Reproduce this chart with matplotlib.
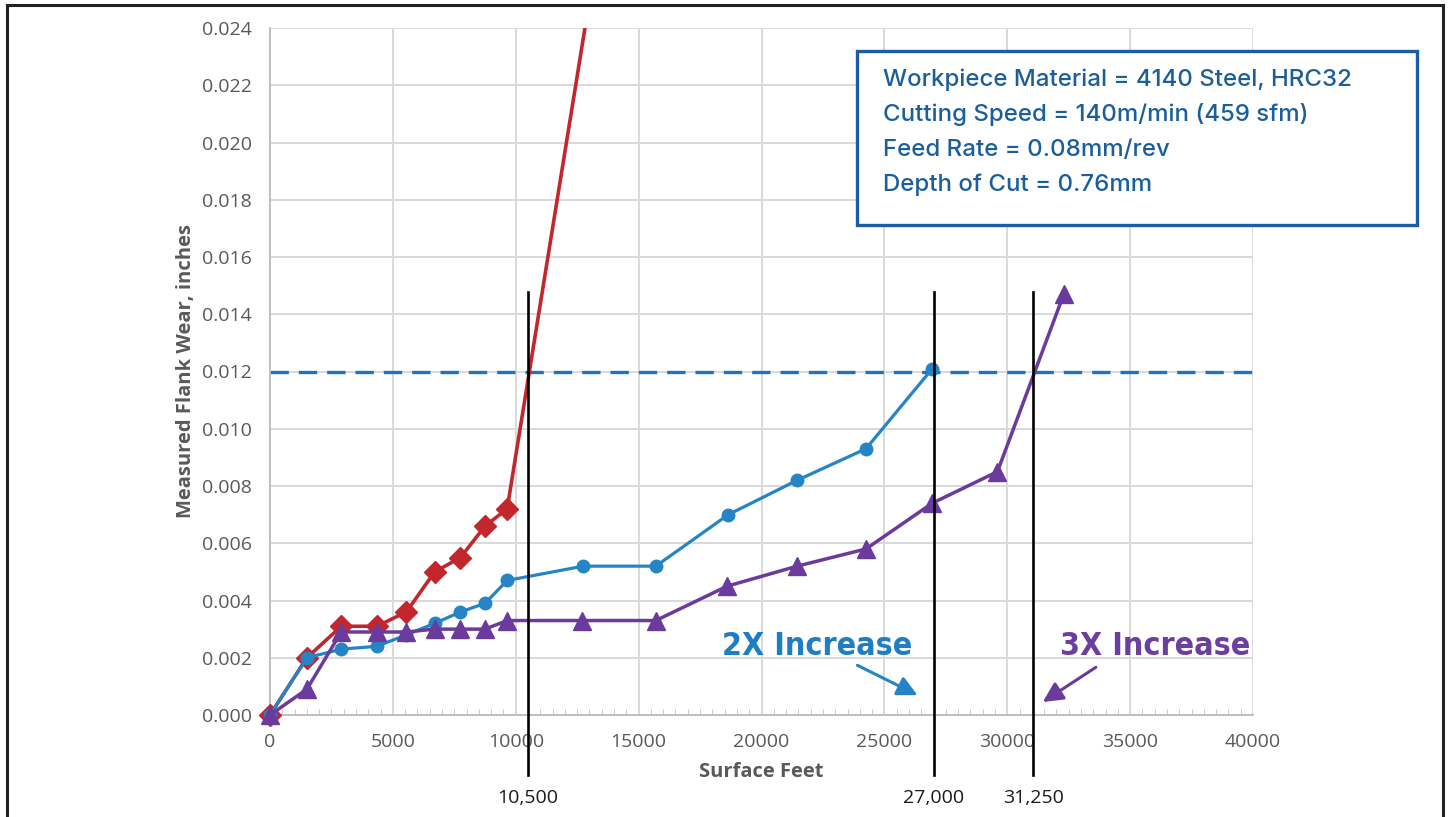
import matplotlib
matplotlib.use("Agg")
import matplotlib.pyplot as plt
from matplotlib import font_manager
from matplotlib.lines import Line2D
from matplotlib.patches import Rectangle
from matplotlib.ticker import MultipleLocator

# data
red_x = [0, 1500, 2900, 4350, 5550, 6700, 7750, 8750, 9650, 15700]
red_y = [0.0, 0.0020, 0.0031, 0.0031, 0.0036, 0.0050, 0.0055, 0.0066, 0.0072, 0.0393]

blue_x = [0, 1500, 2900, 4350, 5550, 6700, 7750, 8750, 9650, 12750, 15700, 18650, 21450, 24250, 26950]
blue_y = [0.0, 0.0020, 0.0023, 0.0024, 0.0028, 0.0032, 0.0036, 0.0039, 0.0047, 0.0052, 0.0052,
          0.0070, 0.0082, 0.0093, 0.0121]

purple_x = [0, 1500, 2900, 4350, 5550, 6700, 7750, 8750, 9650, 12700, 15700, 18600, 21450,
            24250, 26950, 29600, 32300]
purple_y = [0.0, 0.0009, 0.0029, 0.0029, 0.0029, 0.0030, 0.0030, 0.0030, 0.0033, 0.0033, 0.0033,
            0.0045, 0.0052, 0.0058, 0.0074, 0.0085, 0.0147]

limit_wear = 0.012
life_x = [10500, 27000, 31050]
life_labels = ["10,500", "27,000", "31,250"]

info_lines = ["Workpiece Material = 4140 Steel, HRC32",
              "Cutting Speed = 140m/min (459 sfm)",
              "Feed Rate = 0.08mm/rev",
              "Depth of Cut = 0.76mm"]

RED = "#c1272d"
BLUE = "#2584c6"
PURPLE = "#6a3a9c"
GRAY = "#595959"

names = {f.name for f in font_manager.fontManager.ttflist}
if "Liberation Sans Narrow" in names:
    cond = dict(family="Liberation Sans Narrow")
else:
    cond = dict(family="DejaVu Sans", fontstretch="condensed")

W, H = 1449, 817
fig = plt.figure(figsize=(W / 100, H / 100), dpi=100)
ax = fig.add_axes([270 / W, 1 - 715 / H, (1253 - 270) / W, (715 - 28) / H])

ax.set_xlim(0, 40000)
ax.set_ylim(0, 0.024)
ax.xaxis.set_major_locator(MultipleLocator(5000))
ax.xaxis.set_minor_locator(MultipleLocator(500))
ax.yaxis.set_major_locator(MultipleLocator(0.002))
ax.grid(True, color="#d9d9d9", lw=1.4)
ax.set_axisbelow(True)
for s in ["top", "right"]:
    ax.spines[s].set_visible(False)
for s in ["left", "bottom"]:
    ax.spines[s].set_color("#bfbfbf")
    ax.spines[s].set_linewidth(1.4)
ax.tick_params(axis="both", which="major", length=0, pad=13, labelsize=14, labelcolor=GRAY)
ax.tick_params(axis="x", which="minor", direction="in", length=4, color="#bfbfbf")
ax.yaxis.set_major_formatter(plt.FuncFormatter(lambda v, p: f"{v:.3f}"))
ax.xaxis.set_major_formatter(plt.FuncFormatter(lambda v, p: f"{v:.0f}"))
for lab in ax.get_xticklabels() + ax.get_yticklabels():
    lab.set_family("Open Sans")

ax.set_ylabel("Measured Flank Wear, inches", fontsize=14.5, fontweight="bold", color=GRAY,
              family="Open Sans", labelpad=4)
ax.set_xlabel("Surface Feet", fontsize=14.5, fontweight="bold", color=GRAY,
              family="Open Sans", labelpad=8)

ax.axhline(limit_wear, color="#2072bd", lw=2.4, dashes=(5.5, 3), zorder=2)

# lines clipped to the axes, markers allowed to sit on the axis edge
ax.plot(red_x, red_y, color=RED, lw=2.6, zorder=4)
ax.plot(red_x[:-1], red_y[:-1], ls="none", color=RED, marker="D", ms=11, zorder=4, clip_on=False)
ax.plot(blue_x, blue_y, color=BLUE, lw=2.3, zorder=5)
ax.plot(blue_x, blue_y, ls="none", color=BLUE, marker="o", ms=9, zorder=5, clip_on=False)
ax.plot(purple_x, purple_y, color=PURPLE, lw=2.5, zorder=6)
ax.plot(purple_x, purple_y, ls="none", color=PURPLE, marker="^", ms=13.5, zorder=6, clip_on=False)

for xv, lab in zip(life_x, life_labels):
    ax.plot([xv, xv], [0.01478, -0.0021], color="black", lw=1.9, clip_on=False, zorder=7)
    ax.text(xv, -0.0029, lab, ha="center", va="center", fontsize=14, color="#1a1a1a",
            family="Open Sans", clip_on=False)

# annotations
ax.annotate("", xy=(26450, 0.00065), xytext=(23800, 0.00178),
            arrowprops=dict(arrowstyle="-|>,head_length=1.2,head_width=0.6", color=BLUE, lw=2.2))
ax.annotate("", xy=(31350, 0.0004), xytext=(33700, 0.00172),
            arrowprops=dict(arrowstyle="-|>,head_length=1.2,head_width=0.6", color=PURPLE, lw=2.2))
ax.text(22250, 0.00238, "2X Increase", ha="center", va="center", fontsize=23,
        fontweight="bold", color="#1f7dc1", **cond)
ax.text(36000, 0.00238, "3X Increase", ha="center", va="center", fontsize=23,
        fontweight="bold", color="#6b3fa0", **cond)

# info box
fig.add_artist(Rectangle((857 / W, 1 - 225 / H), (1417 - 857) / W, (225 - 51) / H,
                         transform=fig.transFigure, fill=True, facecolor="white",
                         edgecolor="#1f5aa6", lw=2.4, zorder=10))
for i, line in enumerate(info_lines):
    fig.text(883 / W, 1 - (80 + i * 35) / H, line, ha="left", va="center", fontsize=17.3,
             fontweight=500, color="#1b5e9c", family="Inter", zorder=11)

# outer frame
fig.add_artist(Line2D([7 / W, 7 / W], [0, 1 - 5 / H], color="#222222", lw=2.2))
fig.add_artist(Line2D([7 / W, 1443 / W], [1 - 5 / H, 1 - 5 / H], color="#222222", lw=2.2))
fig.add_artist(Line2D([1443 / W, 1443 / W], [1 - 5 / H, 0], color="#222222", lw=2.2))

fig.savefig("out.png", dpi=100)
